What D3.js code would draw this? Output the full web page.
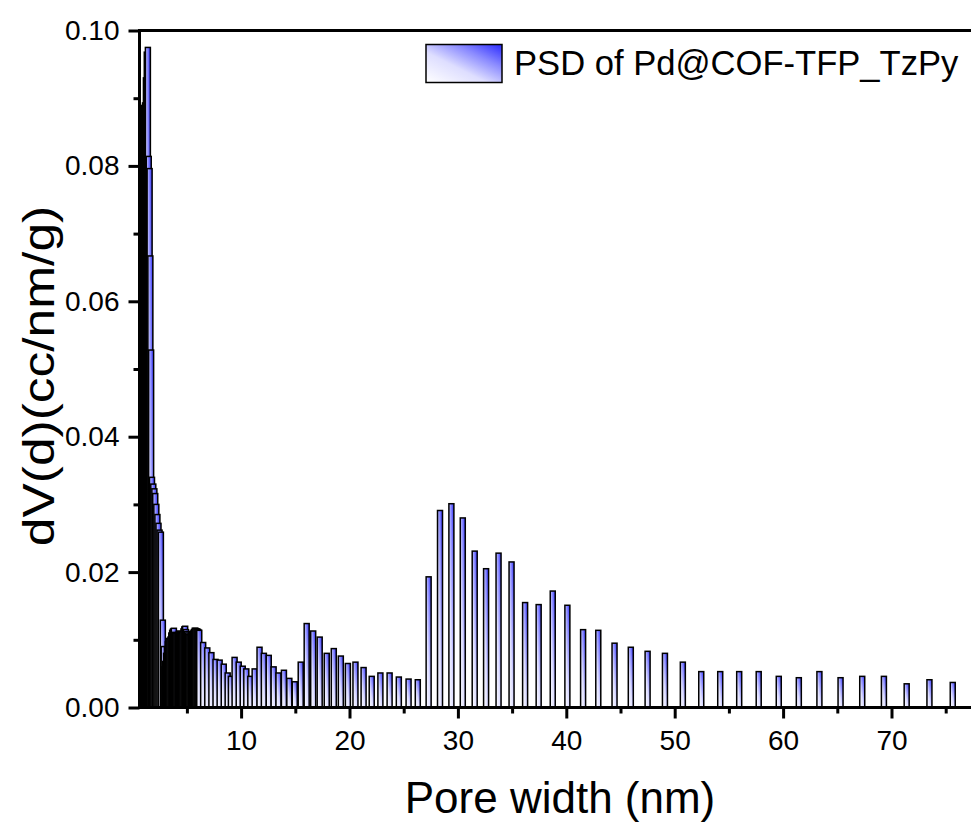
<!DOCTYPE html>
<html>
<head>
<meta charset="utf-8">
<script src="https://cdn.jsdelivr.net/npm/d3@7/dist/d3.min.js"></script>
<style>
  html, body { margin: 0; padding: 0; background: #fff; }
  svg { display: block; }
  text { font-family: "Liberation Sans", Arial, sans-serif; fill: #000; }
</style>
</head>
<body>
<svg id="chart" width="971" height="822"></svg>
<script>
// ---- data ----
const poreWidth = [
  0.58, 0.66, 0.74, 0.82, 0.90, 0.98, 1.06, 1.14, 1.22, 1.30, 1.40,
  1.48, 1.56, 1.63, 1.70, 1.78, 1.90, 2.00, 2.08, 2.18, 2.28, 2.38, 2.48, 2.60,
  2.78, 2.86, 2.94,
  3.00, 3.08, 3.16, 3.24, 3.32, 3.40, 3.48, 3.56, 3.64, 3.72, 3.80, 3.88, 3.96, 4.04,
  4.12, 4.20, 4.28, 4.36, 4.44, 4.52, 4.60, 4.68, 4.76, 4.84, 4.92, 5.00, 5.08, 5.16,
  5.24, 5.32, 5.40, 5.48, 5.56, 5.64, 5.72, 5.80, 5.88, 5.96, 6.05, 6.14,
  6.50, 6.88, 7.26, 7.64, 8.02, 8.40, 8.76, 9.06, 9.40, 9.78,
  10.15, 10.48, 10.85, 11.25, 11.70, 12.10, 12.55, 13.00, 13.45, 13.95, 14.45, 14.95,
  15.50, 16.05, 16.65, 17.25, 17.90, 18.55, 19.20, 19.85, 20.55, 21.30, 22.05, 22.85,
  23.70, 24.55, 25.45, 26.30,
  27.30, 28.35, 29.40, 30.45, 31.55, 32.60, 33.75, 34.95, 36.20, 37.45, 38.75, 40.10,
  41.55, 42.95, 44.45, 45.95, 47.50, 49.10, 50.75, 52.45, 54.20, 55.95, 57.75, 59.60,
  61.45, 63.35, 65.30, 67.30, 69.30, 71.40, 73.50, 75.65
];
const dVd = [
  0.0885, 0.0888, 0.0889, 0.0889, 0.0888, 0.0887, 0.0889, 0.0893, 0.0930, 0.0968, 0.0975,
  0.0814, 0.0796, 0.0667, 0.0528, 0.0340, 0.0330, 0.0323, 0.0316, 0.0300, 0.0285, 0.0272, 0.0262, 0.0259,
  0.0129, 0.0090, 0.0060,
  0.0068, 0.0080, 0.0090, 0.0097, 0.0102, 0.0101, 0.0104, 0.0110, 0.0114, 0.0116, 0.0117, 0.0111, 0.0110, 0.0110,
  0.0109, 0.0111, 0.0113, 0.0112, 0.0111, 0.0110, 0.0112, 0.0116, 0.0119, 0.0120, 0.0115, 0.0112, 0.0110, 0.0108,
  0.0107, 0.0108, 0.0110, 0.0112, 0.0113, 0.0115, 0.0117, 0.0117, 0.0116, 0.0116, 0.0115, 0.0114,
  0.0096, 0.0088, 0.0081, 0.0071, 0.0070, 0.0064, 0.0051, 0.0046, 0.0074, 0.0067,
  0.0061, 0.0057, 0.0046, 0.0057, 0.0089, 0.0080, 0.0077, 0.0060, 0.0051, 0.0055, 0.0043, 0.0038,
  0.0067, 0.0124, 0.0113, 0.0104, 0.0080, 0.0087, 0.0076, 0.0065, 0.0067, 0.0059, 0.0046, 0.0051,
  0.0051, 0.0045, 0.0042, 0.0041,
  0.0193, 0.0291, 0.0301, 0.0280, 0.0231, 0.0205, 0.0228, 0.0215, 0.0155, 0.0152, 0.0172, 0.0151,
  0.0115, 0.0114, 0.0095, 0.0089, 0.0083, 0.0080, 0.0067, 0.0053, 0.0053, 0.0053, 0.0053, 0.0046,
  0.0044, 0.0053, 0.0044, 0.0046, 0.0046, 0.0035, 0.0041, 0.0037
];
const xMajorTicks = [10, 20, 30, 40, 50, 60, 70];
const xMinorTicks = [5, 15, 25, 35, 45, 55, 65, 75];
const yMajorTicks = [0.00, 0.02, 0.04, 0.06, 0.08, 0.10];
const yMinorTicks = [0.01, 0.03, 0.05, 0.07, 0.09];
const xTitle = "Pore width (nm)";
const yTitle = "dV(d)(cc/nm/g)";
const legendLabel = "PSD of Pd@COF-TFP_TzPy";

// ---- layout ----
const plotLeft = 139.5, plotRight = 980, plotTop = 30.5, plotBottom = 707.5;
const svg = d3.select("#chart");

const x = d3.scaleLinear().domain([0, 78.2]).range([132.7, 132.7 + 10.84 * 78.2]);
const y = d3.scaleLinear().domain([0, 0.10]).range([plotBottom, plotTop]);

const defs = svg.append("defs");
const grad = defs.append("linearGradient").attr("id", "barGrad")
  .attr("x1", 0).attr("y1", 1).attr("x2", 1).attr("y2", 0);
[["0%", "#ffffff"], ["40%", "#dedeff"], ["70%", "#8a8aff"], ["100%", "#2a2aff"]].forEach(([o, c]) =>
  grad.append("stop").attr("offset", o).attr("stop-color", c));

defs.append("clipPath").attr("id", "plotClip").append("rect")
  .attr("x", plotLeft).attr("y", 0).attr("width", plotRight - plotLeft).attr("height", plotBottom);

const data = poreWidth.map((w, i) => ({ w, v: dVd[i] }));
const barW = 5;

svg.append("g").attr("clip-path", "url(#plotClip)")
  .selectAll("rect").data(data).join("rect")
  .attr("x", d => x(d.w) - barW / 2)
  .attr("y", d => y(d.v))
  .attr("width", barW)
  .attr("height", d => y(0) - y(d.v))
  .attr("fill", "url(#barGrad)")
  .attr("stroke", "#000")
  .attr("stroke-width", 1.5);

// ---- axes ----
const fontTick = 28;
const gx = svg.append("g").attr("transform", `translate(0,${plotBottom})`)
  .call(d3.axisBottom(x).tickValues(xMajorTicks).tickSize(11).tickSizeOuter(0).tickPadding(12).tickFormat(d3.format("d")));
const gxm = svg.append("g").attr("transform", `translate(0,${plotBottom})`)
  .call(d3.axisBottom(x).tickValues(xMinorTicks).tickSize(6).tickSizeOuter(0).tickFormat(""));
const gy = svg.append("g").attr("transform", `translate(${plotLeft},0)`)
  .call(d3.axisLeft(y).tickValues(yMajorTicks).tickSize(11).tickSizeOuter(0).tickPadding(9).tickFormat(d3.format(".2f")));
const gym = svg.append("g").attr("transform", `translate(${plotLeft},0)`)
  .call(d3.axisLeft(y).tickValues(yMinorTicks).tickSize(6).tickSizeOuter(0).tickFormat(""));

[gx, gxm, gy, gym].forEach(g => {
  g.selectAll(".domain").remove();
  g.selectAll(".tick line").attr("stroke", "#000").attr("stroke-width", 3);
  g.selectAll(".tick text").attr("font-size", fontTick).attr("font-family", '"Liberation Sans", Arial, sans-serif').attr("fill", "#000");
});

// axis lines and frame
svg.append("line").attr("x1", plotLeft).attr("x2", plotRight).attr("y1", plotBottom).attr("y2", plotBottom)
  .attr("stroke", "#000").attr("stroke-width", 3);
svg.append("line").attr("x1", plotLeft).attr("x2", plotLeft).attr("y1", plotTop - 1.5).attr("y2", plotBottom + 1.5)
  .attr("stroke", "#000").attr("stroke-width", 3);
svg.append("line").attr("x1", plotLeft).attr("x2", plotRight).attr("y1", plotTop).attr("y2", plotTop)
  .attr("stroke", "#000").attr("stroke-width", 3);

// titles
svg.append("text").attr("x", 560).attr("y", 813).attr("text-anchor", "middle")
  .attr("font-size", 44).text(xTitle);
svg.append("text").attr("transform", "translate(54,376) rotate(-90) scale(1.17,1)").attr("text-anchor", "middle")
  .attr("font-size", 44).text(yTitle);

// legend
const lg = svg.append("g");
lg.append("rect").attr("x", 426).attr("y", 44.5).attr("width", 76).attr("height", 38)
  .attr("fill", "url(#barGrad)").attr("stroke", "#000").attr("stroke-width", 1.5);
lg.append("text").attr("x", 514).attr("y", 75).attr("font-size", 34.6).text(legendLabel);
</script>
</body>
</html>
